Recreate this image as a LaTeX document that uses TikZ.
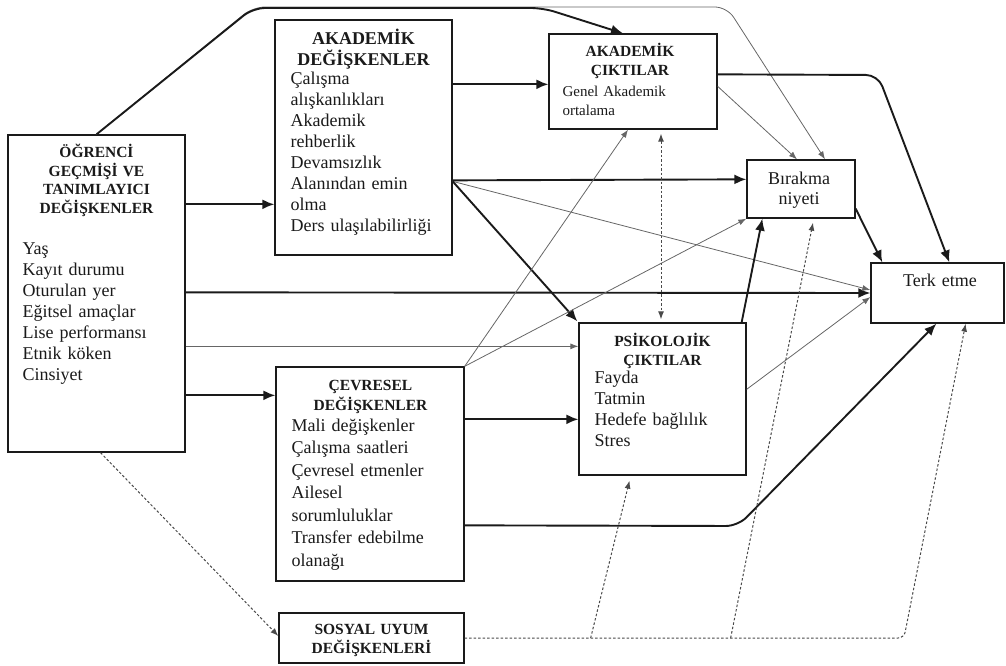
\documentclass[tikz,border=0pt]{standalone}
\usepackage{fontspec}
\setmainfont{Liberation Serif}
\usetikzlibrary{arrows.meta, calc}
\definecolor{Ink}{HTML}{1A1A1A}
\definecolor{ThinGrey}{HTML}{666666}
\definecolor{DotGrey}{HTML}{4A4A4A}

\begin{document}
\begin{tikzpicture}[x=1pt,y=-1pt,every node/.style={text=Ink},box/.style={draw=Ink,fill=white,line width=1.3pt,inner sep=0pt},heading/.style={inner sep=0pt,anchor=base,align=center,text width=180pt,font=\bfseries\fontsize{15.5}{18.7}\selectfont},bigheading/.style={heading,font=\bfseries\fontsize{18}{21}\selectfont},itemlist/.style={inner sep=0pt,anchor=base west,align=left,text width=170pt,font=\fontsize{18}{21}\selectfont},plain/.style={inner sep=0pt,anchor=base,align=center,text width=120pt,font=\fontsize{18}{20}\selectfont},thickarrow/.style={-{Latex[length=12pt,width=10pt]},draw=Ink,line width=1.9pt},thinarrow/.style={-{Latex[length=8pt,width=6pt]},draw=ThinGrey,line width=0.8pt},dotarrow/.style={-{Latex[length=8pt,width=6pt]},draw=DotGrey,line width=1pt,dash pattern=on 2.5pt off 2pt}]
\useasboundingbox (0,0) rectangle (1006,666);
% boxes
\node[box,minimum width=177pt,minimum height=317pt] (ogr) at (96.5,293.5) {};
\node[box,minimum width=177pt,minimum height=235pt] (akdeg) at (363.5,137.5) {};
\node[box,minimum width=168pt,minimum height=95pt] (akcik) at (633,81.5) {};
\node[box,minimum width=108pt,minimum height=58pt] (birakma) at (801,189) {};
\node[box,minimum width=133pt,minimum height=60pt] (terk) at (937.5,293) {};
\node[box,minimum width=167pt,minimum height=152pt] (psik) at (662.5,399) {};
\node[box,minimum width=188pt,minimum height=214pt] (cev) at (370,474) {};
\node[box,minimum width=185pt,minimum height=50pt] (sosyal) at (371.5,638) {};
% texts
\node[heading] (ogr-head) at ($(ogr.north)+(0,23)$) {ÖĞRENCİ\\GEÇMİŞİ VE\\TANIMLAYICI\\DEĞİŞKENLER};
\node[itemlist] (ogr-list) at ($(ogr.north west)+(15,120)$) {Yaş\\Kayıt durumu\\Oturulan yer\\Eğitsel amaçlar\\Lise performansı\\Etnik köken\\Cinsiyet};
\node[bigheading] (akdeg-head) at ($(akdeg.north)+(0,25)$) {AKADEMİK\\DEĞİŞKENLER};
\node[itemlist] (akdeg-list) at ($(akdeg.north west)+(16,65.5)$) {Çalışma\\alışkanlıkları\\Akademik\\rehberlik\\Devamsızlık\\Alanından emin\\olma\\Ders ulaşılabilirliği};
\node[heading] (akcik-head) at ($(akcik.north)+(-3,23)$) {AKADEMİK\\ÇIKTILAR};
\node[itemlist,font=\fontsize{15}{19.5}\selectfont] (akcik-list) at ($(akcik.north west)+(14,63)$) {Genel Akademik\\ortalama};
\node[plain] (birakma-text) at ($(birakma.north)+(-2,25)$) {Bırakma\\niyeti};
\node[plain] (terk-text) at ($(terk.north)+(2.5,24)$) {Terk etme};
\node[heading] (psik-head) at ($(psik.north)+(0,24)$) {PSİKOLOJİK\\ÇIKTILAR};
\node[itemlist] (psik-list) at ($(psik.north west)+(16,61)$) {Fayda\\Tatmin\\Hedefe bağlılık\\Stres};
\node[heading,font=\bfseries\fontsize{15.5}{20}\selectfont] (cev-head) at ($(cev.north)+(0.5,24)$) {ÇEVRESEL\\DEĞİŞKENLER};
\node[itemlist,font=\fontsize{18}{22.5}\selectfont] (cev-list) at ($(cev.north west)+(16,65)$) {Mali değişkenler\\Çalışma saatleri\\Çevresel etmenler\\Ailesel\\sorumluluklar\\Transfer edebilme\\olanağı};
\node[heading,font=\bfseries\fontsize{15.5}{19}\selectfont] (sosyal-head) at ($(sosyal.north)+(0,22)$) {SOSYAL UYUM\\DEĞİŞKENLERİ};
% connectors
\draw[thinarrow,rounded corners=12pt] (ogr.north) -- (253,7) -- (727,7) -- ($(birakma.north)+(24,0)$);
\draw[thickarrow,rounded corners=12pt] (ogr.north) -- (253,8) -- (543,8) -- ($(akcik.north)+(-10,0)$);
\draw[thickarrow] ($(ogr.north east)+(0,70)$) -- ($(akdeg.north west)+(0,185)$);
\draw[thickarrow] ($(ogr.north east)+(0,158)$) -- (terk.west);
\draw[thinarrow] ($(ogr.north east)+(0,212)$) -- ($(psik.north west)+(0,24)$);
\draw[thickarrow] ($(ogr.north east)+(0,261)$) -- ($(cev.north west)+(0,29)$);
\draw[dotarrow] ($(ogr.south)+(4,0)$) -- ($(sosyal.west)+(0,-2)$);
\draw[thickarrow] ($(akdeg.north east)+(0,65)$) -- ($(akcik.north west)+(0,51)$);
\draw[thickarrow] ($(akdeg.north east)+(0,161)$) -- ($(birakma.north west)+(0,20)$);
\draw[thinarrow] ($(akdeg.north east)+(0,162)$) -- ($(terk.west)+(0,-3)$);
\draw[thickarrow] ($(akdeg.north east)+(0,162)$) -- ($(psik.north west)+(-1,-1)$);
\draw[thinarrow] (cev.north east) -- ($(akcik.south)+(-5,0)$);
\draw[thinarrow] (cev.north east) -- (birakma.south west);
\draw[thickarrow] ($(cev.north east)+(0,53)$) -- ($(psik.north west)+(0,97)$);
\draw[thickarrow,rounded corners=12pt] ($(cev.north east)+(0,159)$) -- (738,526) -- ($(terk.south west)+(66,0)$);
\draw[dotarrow,{Latex[length=8pt,width=6pt]}-{Latex[length=8pt,width=6pt]}] ($(akcik.south)+(28,4)$) -- ($(psik.north)+(-1.5,-3)$);
\draw[thinarrow] ($(akcik.north east)+(0,53)$) -- ($(birakma.north)+(-4,0)$);
\draw[thickarrow,rounded corners=12pt] ($(akcik.north east)+(0,41)$) -- (878,75) -- ($(terk.north west)+(79,0)$);
\draw[thickarrow] ($(birakma.south east)+(0,-10)$) -- ($(terk.north west)+(12,0)$);
\draw[thickarrow] ($(psik.north east)+(-5,0)$) -- ($(birakma.south west)+(16,0)$);
\draw[thinarrow] ($(psik.north east)+(0,67)$) -- ($(terk.west)+(0,4)$);
\draw[dotarrow,rounded corners=6pt] (sosyal.east) -- (904,638) -- ($(terk.south east)+(-39,0)$);
\draw[dotarrow] ($(sosyal.east)+(126,0)$) -- ($(psik.south)+(-33,5)$);
\draw[dotarrow] ($(sosyal.east)+(266,0)$) -- ($(birakma.south)+(12,4)$);
\end{tikzpicture}
\end{document}
